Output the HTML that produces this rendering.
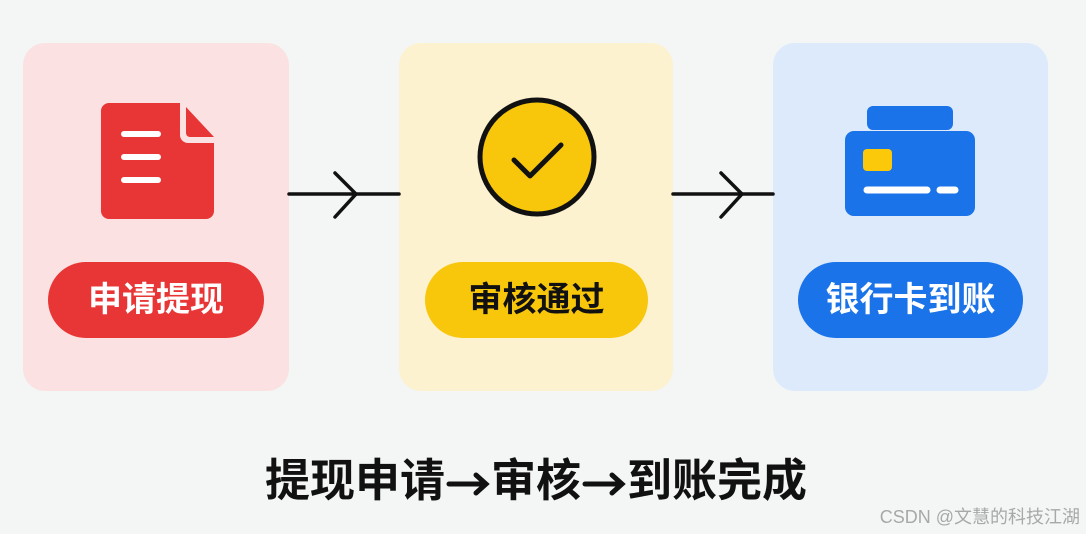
<!DOCTYPE html>
<html><head><meta charset="utf-8"><style>
html,body{margin:0;padding:0}
body{width:1086px;height:534px;background:#f4f6f6;position:relative;overflow:hidden;font-family:"Liberation Sans","Noto Sans CJK SC",sans-serif}
.card{position:absolute;top:43px;height:348px;border-radius:22px}
.pill{position:absolute;top:262px;height:76px;border-radius:38px;font-weight:bold;font-size:34px;line-height:76px;text-align:center}
.abs{position:absolute}
.ar{display:inline-block;vertical-align:middle}
</style></head><body>
<div class="card" style="left:23px;width:266px;background:#fbe1e1"></div>
<div class="card" style="left:399px;width:274px;background:#fdf2cf"></div>
<div class="card" style="left:773px;width:275px;background:#dceafc"></div>

<svg class="abs" style="left:0;top:0" width="1086" height="534">
  <path d="M109 103 H180 V135 a8 8 0 0 0 8 8 H214 V211 a8 8 0 0 1 -8 8 H109 a8 8 0 0 1 -8 -8 V111 a8 8 0 0 1 8 -8Z" fill="#e83535"/>
  <path d="M186 107 L214 137 H190 a4 4 0 0 1 -4 -4Z" fill="#e83535"/>
  <g stroke="#fff" stroke-width="6" stroke-linecap="round">
    <line x1="124" y1="134" x2="158" y2="134"/><line x1="124" y1="157" x2="158" y2="157"/><line x1="124" y1="180" x2="158" y2="180"/>
  </g>
  <circle cx="537" cy="157" r="57" fill="#f8c60a" stroke="#111" stroke-width="5"/>
  <polyline points="514,160 530,176 561,145" fill="none" stroke="#111" stroke-width="5" stroke-linecap="round" stroke-linejoin="round"/>
  <rect x="867" y="106" width="86" height="24" rx="6" fill="#1a73e8"/>
  <rect x="845" y="131" width="130" height="85" rx="9" fill="#1a73e8"/>
  <rect x="863" y="149" width="29" height="22" rx="4" fill="#fbc90a"/>
  <g stroke="#fff" stroke-width="7" stroke-linecap="round">
    <line x1="867" y1="190" x2="927" y2="190"/><line x1="940" y1="190" x2="955" y2="190"/>
  </g>
  <g stroke="#111" stroke-width="3.5" fill="none" stroke-linecap="round">
    <line x1="289" y1="194" x2="399" y2="194"/><polyline points="335,173 356,194 335,217"/>
    <line x1="673" y1="194" x2="773" y2="194"/><polyline points="721,173 742,194 721,217"/>
  </g>
</svg>

<div class="pill" style="left:48px;width:216px;background:#e83535;color:#fff">申请提现</div>
<div class="pill" style="left:425px;width:223px;background:#f8c60a;color:#111">审核通过</div>
<div class="pill" style="left:798px;width:225px;background:#1a73e8;color:#fff">银行卡到账</div>

<div class="abs" style="left:265px;top:451px;font-size:45px;font-weight:bold;color:#111;line-height:60px;white-space:nowrap">提现申请<svg class="ar" width="46" height="30" viewBox="0 0 46 30"><g stroke="#111" stroke-width="5" fill="none" stroke-linecap="round"><line x1="4" y1="15" x2="40" y2="15"/><polyline points="31,6 41,15 31,24"/></g></svg>审核<svg class="ar" width="46" height="30" viewBox="0 0 46 30"><g stroke="#111" stroke-width="5" fill="none" stroke-linecap="round"><line x1="4" y1="15" x2="40" y2="15"/><polyline points="31,6 41,15 31,24"/></g></svg>到账完成</div>
<div class="abs" style="right:6px;top:503px;font-size:18px;color:#a8a8a8;white-space:nowrap">CSDN @文慧的科技江湖</div>
</body></html>
